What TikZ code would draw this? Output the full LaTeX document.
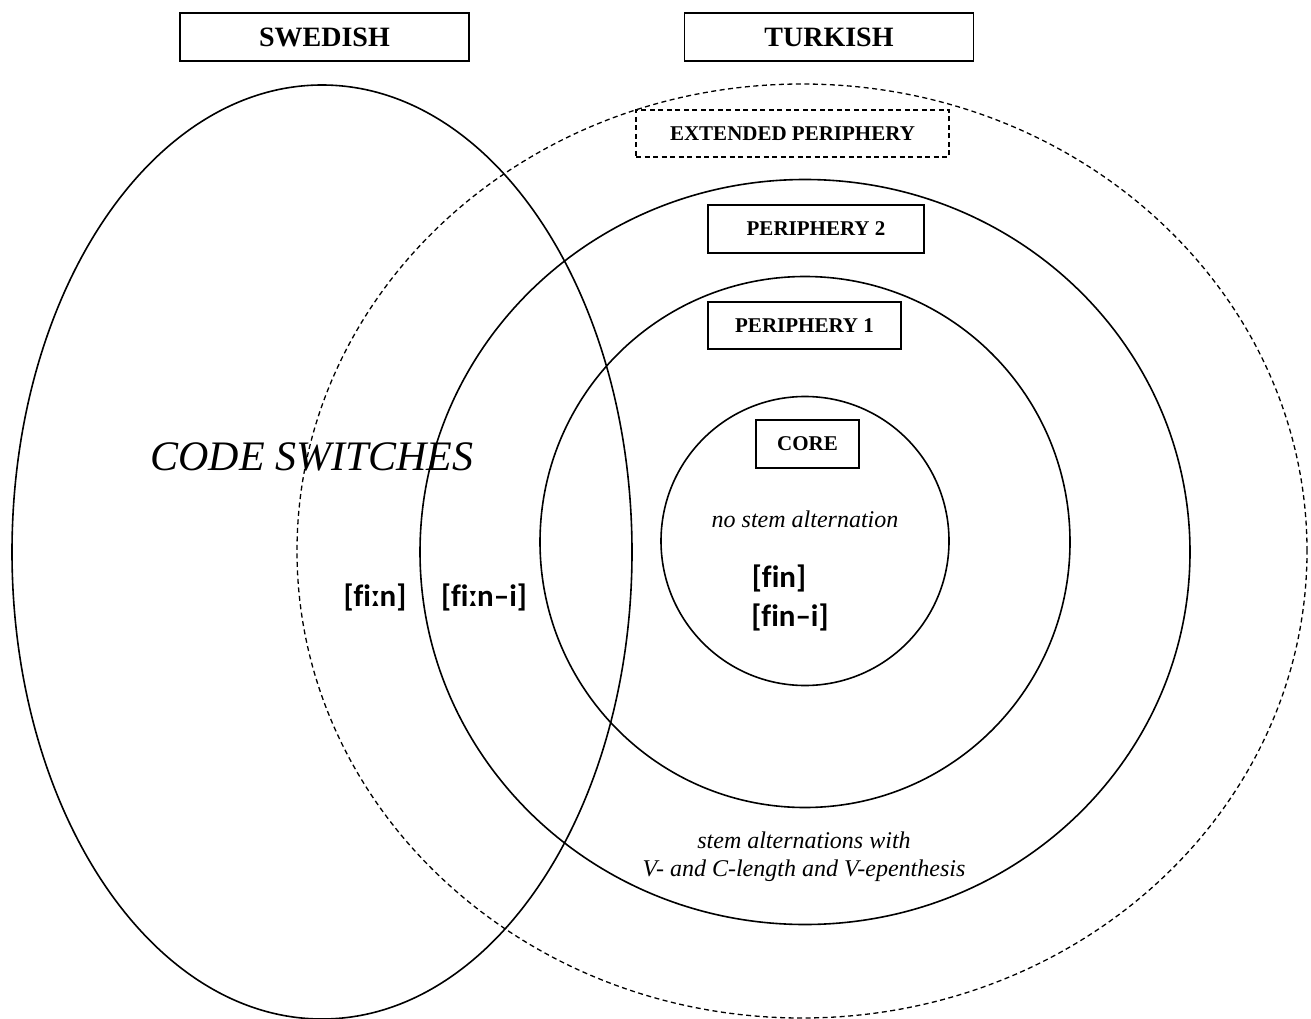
\documentclass[tikz,border=0pt]{standalone}
\usepackage{fontspec}
\setmainfont{Liberation Serif}
\newfontfamily\ipafont[Ligatures=NoCommon]{Carlito}
\usetikzlibrary{shapes.geometric, positioning}

\begin{document}
\begin{tikzpicture}[x=1pt, y=-1pt,
        ring/.style={
            draw, ellipse, line width=1.6pt, inner sep=0pt
        },
        dashed_ring/.style={
            ring, dash pattern=on 5pt off 3.5pt, line width=1.3pt
        },
        tag_box/.style={
            draw, rectangle, line width=1.6pt, inner sep=0pt, fill=white,
            font=\bfseries\fontsize{21}{24}\selectfont
        },
        lang_box/.style={
            tag_box, minimum width=289pt, minimum height=48pt,
            font=\bfseries\fontsize{28}{32}\selectfont
        },
        ipa/.style={
            font=\ipafont\bfseries\fontsize{31}{36}\selectfont, inner sep=0pt
        },
        note/.style={
            font=\itshape\fontsize{24}{28}\selectfont, align=center, inner sep=0pt
        }
    ]
    \useasboundingbox (0,0) rectangle (1311,1019);

    % Language sets
    \node[ring, minimum width=620pt, minimum height=934pt] (swedish_set) at (322,552) {};
    \node[dashed_ring, minimum width=1010pt, minimum height=934pt] (ext_set) at (802,551) {};
    \node[ring, minimum width=770pt, minimum height=745pt] (p2_set) at (805,552) {};
    \node[ring, minimum width=530pt, minimum height=531pt] (p1_set) at (805,542) {};
    \node[ring, minimum width=288pt, minimum height=289pt] (core_set) at (805,541) {};

    % Labels
    \node[lang_box] (swedish) at (324.5,37) {SWEDISH};
    \node[lang_box] (turkish) at (829,37) {TURKISH};
    \node[tag_box, minimum width=313pt, minimum height=47pt, dash pattern=on 5pt off 3.5pt, line width=1.3pt] (ext) at (792.5,133.5) {EXTENDED PERIPHERY};
    \node[tag_box, minimum width=216pt, minimum height=48pt] (p2) at (816,229) {PERIPHERY 2};
    \node[tag_box, minimum width=193pt, minimum height=47pt] (p1) at (804.5,325.5) {PERIPHERY 1};
    \node[tag_box, minimum width=103pt, minimum height=48pt] (core) at (807.5,444) {CORE};

    % Texts
    \node[font=\itshape\fontsize{42}{48}\selectfont, inner sep=0pt] (cs) at (312,457) {CODE SWITCHES};
    \node[note] (nostem) at (805,519) {no stem alternation};
    \node[ipa] (fin) at (779,578) {[fin]};
    \node[ipa] (fini) at (790,617) {[fin\textendash i]};
    \node[ipa] (fiin) at (375,597) {[fiːn]};
    \node[ipa] (fiini) at (484,597) {[fiːn\textendash i]};
    \node[note] (stem) at (804,857) {stem alternations with\\V- and C-length and V-epenthesis};

\end{tikzpicture}
\end{document}
